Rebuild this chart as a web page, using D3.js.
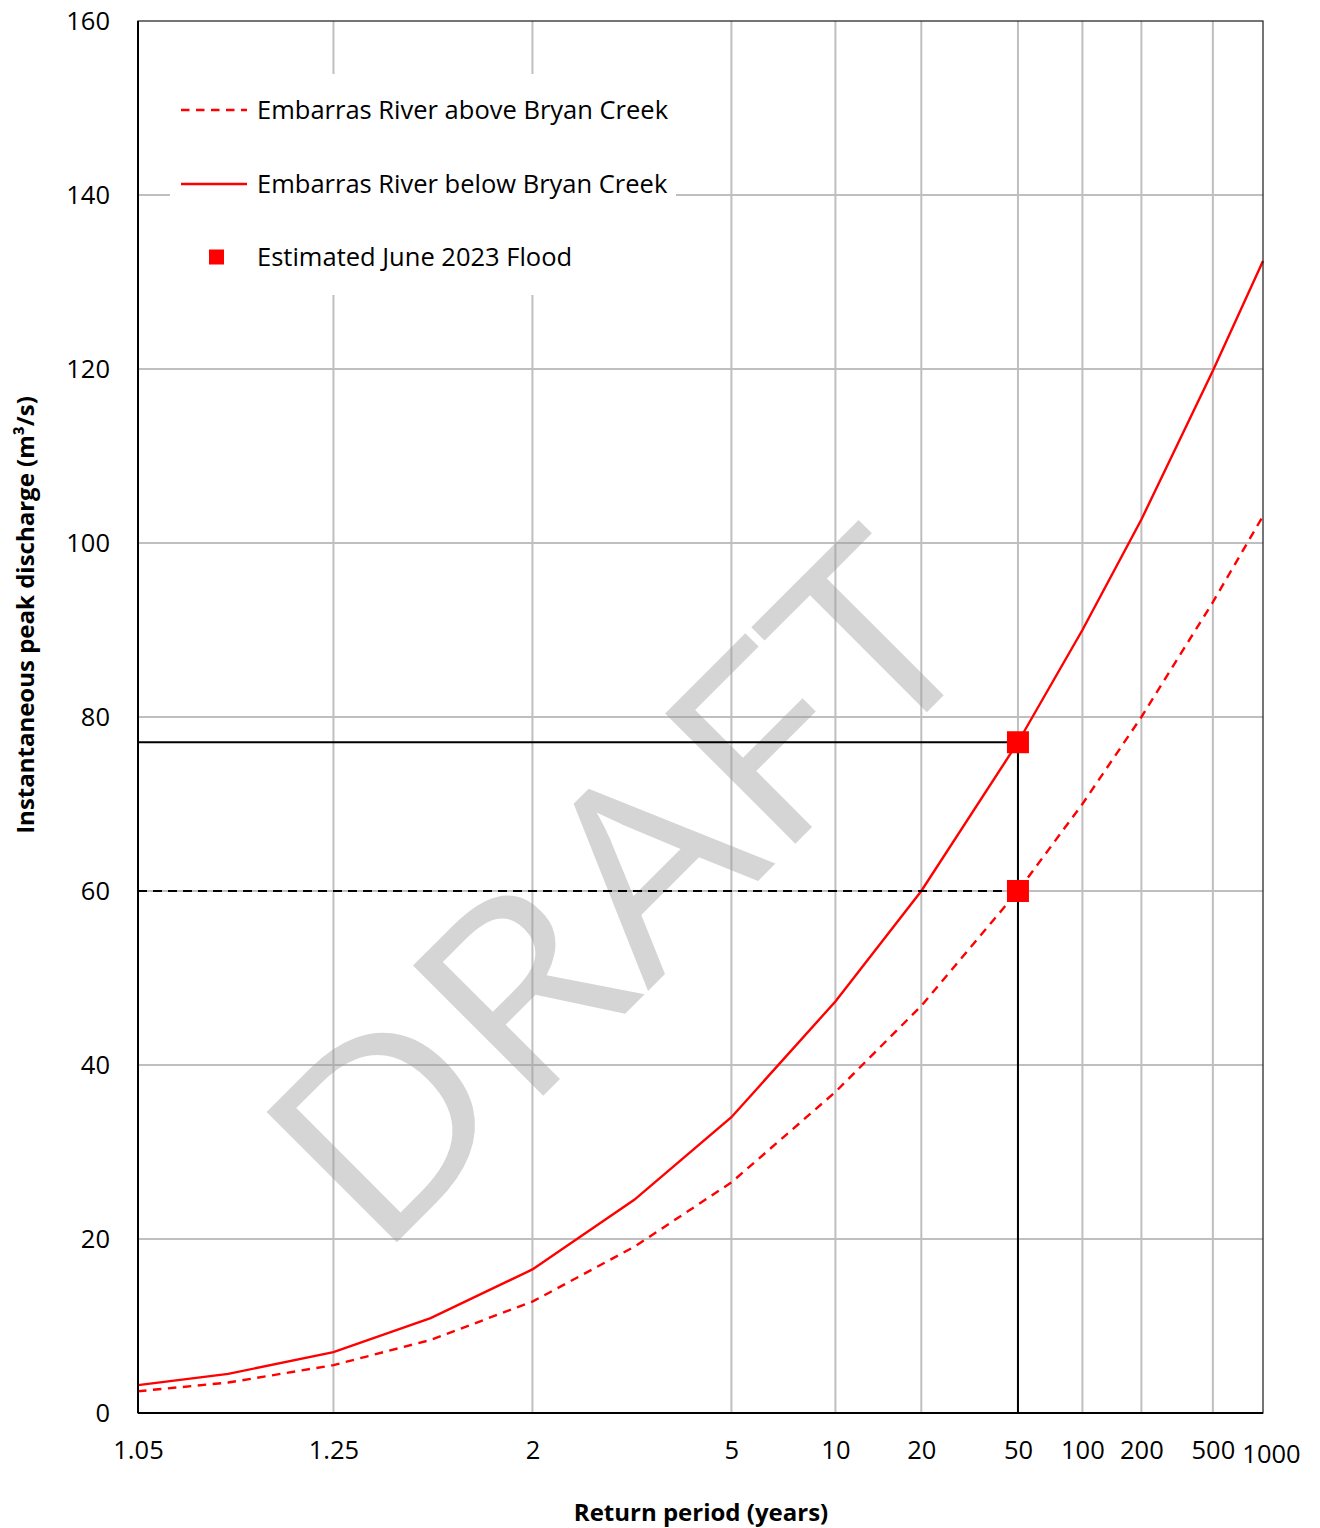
<!DOCTYPE html>
<html>
<head>
<meta charset="utf-8">
<script src="https://cdn.jsdelivr.net/npm/d3@7"></script>
<style>
  html, body { margin: 0; padding: 0; background: #fff; }
  svg { display: block; font-family: "Open Sans", Lato, sans-serif; }
</style>
</head>
<body>
<svg id="chart" width="1320" height="1528"></svg>
<script>
// Flood frequency curves, Embarras River (return period on a normal-probability axis)
const returnPeriods = [1.05, 1.11, 1.25, 1.5, 2, 3, 5, 10, 20, 50, 100, 200, 500, 1000];
const dischargeAbove = [2.5, 3.5, 5.5, 8.4, 12.8, 19.1, 26.5, 36.9, 46.8, 60.0, 70.0, 80.0, 93.2, 103.1];
const dischargeBelow = [3.2, 4.5, 7.0, 10.9, 16.5, 24.5, 34.0, 47.3, 60.0, 77.1, 90.0, 102.7, 119.8, 132.4];

const floodReturnPeriod = 50;
const floodDischarge = [77.1, 60.0];   // below, above Bryan Creek

const xTicks = [1.05, 1.25, 2, 5, 10, 20, 50, 100, 200, 500, 1000];
const yTicks = [0, 20, 40, 60, 80, 100, 120, 140, 160];

const seriesNames = ["Embarras River above Bryan Creek", "Embarras River below Bryan Creek", "Estimated June 2023 Flood"];

// Inverse standard normal CDF (Acklam's rational approximation)
function probit(p) {
  const a = [-3.969683028665376e+01, 2.209460984245205e+02, -2.759285104469687e+02,
             1.383577518672690e+02, -3.066479806614716e+01, 2.506628277459239e+00];
  const b = [-5.447609879822406e+01, 1.615858368580409e+02, -1.556989798598866e+02,
             6.680131188771972e+01, -1.328068155288572e+01];
  const c = [-7.784894002430293e-03, -3.223964580411365e-01, -2.400758277161838e+00,
             -2.549732539343734e+00, 4.374664141464968e+00, 2.938163982698783e+00];
  const d = [7.784695709041462e-03, 3.224671290700398e-01, 2.445134137142996e+00,
             3.754408661907416e+00];
  const pl = 0.02425, ph = 1 - pl;
  let q, r;
  if (p < pl) {
    q = Math.sqrt(-2 * Math.log(p));
    return (((((c[0]*q+c[1])*q+c[2])*q+c[3])*q+c[4])*q+c[5]) /
           ((((d[0]*q+d[1])*q+d[2])*q+d[3])*q+1);
  }
  if (p <= ph) {
    q = p - 0.5; r = q * q;
    return (((((a[0]*r+a[1])*r+a[2])*r+a[3])*r+a[4])*r+a[5])*q /
           (((((b[0]*r+b[1])*r+b[2])*r+b[3])*r+b[4])*r+1);
  }
  q = Math.sqrt(-2 * Math.log(1 - p));
  return -(((((c[0]*q+c[1])*q+c[2])*q+c[3])*q+c[4])*q+c[5]) /
          ((((d[0]*q+d[1])*q+d[2])*q+d[3])*q+1);
}
const zOf = T => probit(1 - 1 / T);

const margin = { left: 138, right: 1263, top: 21, bottom: 1413 };
const svg = d3.select("#chart");

const zScale = d3.scaleLinear()
  .domain([zOf(xTicks[0]), zOf(xTicks[xTicks.length - 1])])
  .range([margin.left, margin.right]);
const x = T => zScale(zOf(T));
const y = d3.scaleLinear().domain([0, 160]).range([margin.bottom, margin.top]);

const gridColor = "#bfbfbf";
const fontSize = 25.5;
const titleSize = 24;

// Gridlines
const grid = svg.append("g");
grid.selectAll("line.v").data(xTicks.slice(1, -1)).join("line")
  .attr("x1", d => x(d)).attr("x2", d => x(d))
  .attr("y1", margin.top).attr("y2", margin.bottom)
  .attr("stroke", gridColor).attr("stroke-width", 2);
grid.selectAll("line.h").data(yTicks.slice(1, -1)).join("line")
  .attr("x1", margin.left).attr("x2", margin.right)
  .attr("y1", d => y(d)).attr("y2", d => y(d))
  .attr("stroke", gridColor).attr("stroke-width", 2);

// Watermark
svg.append("text")
  .attr("transform", "translate(684,955) rotate(-45)")
  .attr("text-anchor", "middle")
  .attr("font-family", "'Open Sans', sans-serif")
  .attr("font-size", 258)
  .attr("textLength", 868)
  .attr("lengthAdjust", "spacingAndGlyphs")
  .attr("fill", "#9a9a9a")
  .attr("fill-opacity", 0.42)
  .text("DRAFT");

// Legend background
const legend = svg.append("g");
legend.append("rect")
  .attr("x", 170).attr("y", 74).attr("width", 506).attr("height", 221)
  .attr("fill", "#fff");

// Curves
const line = d3.line().x(d => x(d[0])).y(d => y(d[1]));
svg.append("path")
  .datum(returnPeriods.map((T, i) => [T, dischargeAbove[i]]))
  .attr("d", line).attr("fill", "none")
  .attr("stroke", "#ff0000").attr("stroke-width", 2.4)
  .attr("stroke-dasharray", "8.5,6.5");
svg.append("path")
  .datum(returnPeriods.map((T, i) => [T, dischargeBelow[i]]))
  .attr("d", line).attr("fill", "none")
  .attr("stroke", "#ff0000").attr("stroke-width", 2.4);

// Reference lines to the estimated flood
const xf = x(floodReturnPeriod);
svg.append("line")
  .attr("x1", margin.left).attr("x2", xf)
  .attr("y1", y(floodDischarge[0])).attr("y2", y(floodDischarge[0]))
  .attr("stroke", "#000").attr("stroke-width", 2);
svg.append("line")
  .attr("x1", xf).attr("x2", xf)
  .attr("y1", y(floodDischarge[0])).attr("y2", margin.bottom)
  .attr("stroke", "#000").attr("stroke-width", 2);
svg.append("line")
  .attr("x1", margin.left).attr("x2", xf)
  .attr("y1", y(floodDischarge[1])).attr("y2", y(floodDischarge[1]))
  .attr("stroke", "#000").attr("stroke-width", 2)
  .attr("stroke-dasharray", "9,6");

// Flood markers
svg.selectAll("rect.flood").data(floodDischarge).join("rect")
  .attr("x", xf - 11).attr("y", d => y(d) - 11)
  .attr("width", 22).attr("height", 22)
  .attr("fill", "#ff0000");

// Plot frame
svg.append("rect")
  .attr("x", margin.left).attr("y", margin.top)
  .attr("width", margin.right - margin.left).attr("height", margin.bottom - margin.top)
  .attr("fill", "none").attr("stroke", "#1a1a1a").attr("stroke-width", 1.2);
svg.append("line")
  .attr("x1", margin.left).attr("x2", margin.left)
  .attr("y1", margin.top).attr("y2", margin.bottom)
  .attr("stroke", "#000").attr("stroke-width", 2);
svg.append("line")
  .attr("x1", margin.left).attr("x2", margin.right)
  .attr("y1", margin.bottom).attr("y2", margin.bottom)
  .attr("stroke", "#000").attr("stroke-width", 2);

// Axes tick labels
const yAxis = d3.axisLeft(y).tickValues(yTicks).tickSize(0).tickPadding(28);
svg.append("g").attr("transform", `translate(${margin.left},0)`).call(yAxis)
  .call(g => g.select(".domain").remove())
  .call(g => g.selectAll("text").attr("font-size", fontSize).attr("fill", "#000")
    .attr("font-family", "'Open Sans', sans-serif"));

const xAxis = d3.axisBottom(zScale).tickValues(xTicks.map(zOf))
  .tickFormat((d, i) => String(xTicks[i])).tickSize(0).tickPadding(28);
svg.append("g").attr("transform", `translate(0,${margin.bottom})`).call(xAxis)
  .call(g => g.select(".domain").remove())
  .call(g => g.selectAll("text").attr("font-size", fontSize).attr("fill", "#000")
    .attr("font-family", "'Open Sans', sans-serif"))
  .call(g => g.selectAll(".tick:last-of-type text").attr("dx", 8).attr("dy", "0.85em"));

// Axis titles
svg.append("text")
  .attr("x", 701).attr("y", 1521)
  .attr("text-anchor", "middle").attr("font-weight", "bold").attr("font-size", titleSize)
  .text("Return period (years)");
svg.append("text")
  .attr("transform", "translate(34,615) rotate(-90)")
  .attr("text-anchor", "middle").attr("font-weight", "bold").attr("font-size", titleSize)
  .text("Instantaneous peak discharge (m³/s)");

// Legend entries
const ly = [110, 184, 257];
legend.append("line").attr("x1", 181).attr("x2", 247).attr("y1", ly[0]).attr("y2", ly[0])
  .attr("stroke", "#ff0000").attr("stroke-width", 2.4).attr("stroke-dasharray", "8.5,6.5");
legend.append("line").attr("x1", 181).attr("x2", 247).attr("y1", ly[1]).attr("y2", ly[1])
  .attr("stroke", "#ff0000").attr("stroke-width", 2.4);
legend.append("rect").attr("x", 209).attr("y", ly[2] - 7.5).attr("width", 15).attr("height", 15)
  .attr("fill", "#ff0000");
legend.selectAll("text").data(seriesNames).join("text")
  .attr("x", 257).attr("y", (d, i) => ly[i] + 9)
  .attr("font-size", fontSize).attr("fill", "#000")
  .text(d => d);
</script>
</body>
</html>
